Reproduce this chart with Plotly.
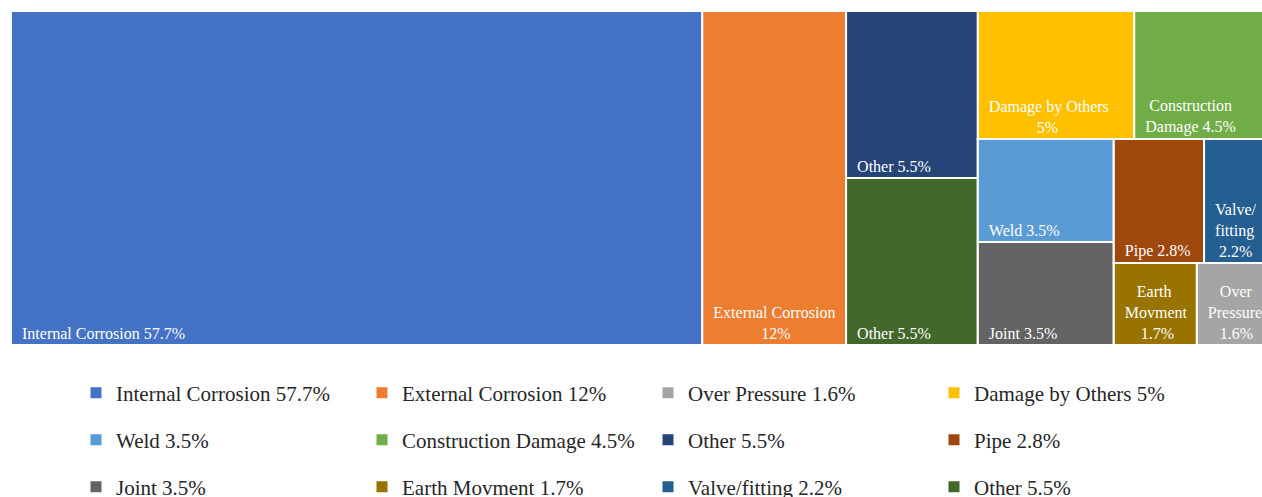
import plotly.graph_objects as go

NB = "\u00a0"

# ---- data ----
labels = ["Internal Corrosion", "External Corrosion", "Other", "Other",
          "Damage by Others", "Construction Damage", "Weld", "Joint",
          "Pipe", "Valve/fitting", "Earth Movment", "Over Pressure"]
values = [57.7, 12, 5.5, 5.5, 5, 4.5, 3.5, 3.5, 2.8, 2.2, 1.7, 1.6]
# tile labels: lines of text (wrapped as in the reference)
tile_lines = [["Internal Corrosion 57.7%"], ["External Corrosion", "12%"], ["Other 5.5%"], ["Other 5.5%"],
              ["Damage by Others", "5%"], ["Construction", "Damage 4.5%"], ["Weld 3.5%"], ["Joint 3.5%"],
              ["Pipe 2.8%"], ["Valve/", "fitting", "2.2%"], ["Earth", "Movment", "1.7%"], ["Over", "Pressure", "1.6%"]]
# indentation (in no-break spaces) used to centre shorter lines under longer ones
tile_indent = [[0], [0, 12], [0], [0], [0, 12], [1, 0], [0], [0], [0], [0, 0, 1], [3, 0, 4], [3, 0, 3]]
colors = ["#4472C4", "#ED7D31", "#264478", "#43682B",
          "#FFC000", "#70AD47", "#5B9BD5", "#636363",
          "#9E480E", "#255E91", "#997300", "#A5A5A5"]

# grouping of tiles (Excel-like arrangement)
tree = {
    "all": [0, 1, "g_other", "g_rest"],
    "g_other": [2, 3],
    "g_rest": ["row_top", "row_low"],
    "row_top": [4, 5],
    "row_low": ["col_a", "col_b"],
    "col_a": [6, 7],
    "col_b": ["row_p", "row_e"],
    "row_p": [8, 9],
    "row_e": [10, 11],
}

# legend rows (indices into the lists above)
legend_rows = [[0, 1, 11, 4], [6, 5, 2, 8], [7, 10, 9, 3]]


def tile_label(i):
    return "<br>".join(NB * (2 + n) + line for line, n in zip(tile_lines[i], tile_indent[i]))


# ---- build hierarchy ----
ids, parents, labs, vals, texts, cols = [], [], [], [], [], []


def add(node, parent):
    if isinstance(node, int):
        ids.append(f"leaf{node}")
        parents.append(parent)
        labs.append(labels[node])
        vals.append(values[node])
        texts.append(tile_label(node))
        cols.append(colors[node])
    else:
        ids.append(node)
        parents.append(parent)
        labs.append(node)
        vals.append(0)
        texts.append("")
        cols.append("white")
        for ch in tree.get(node, []):
            add(ch, node)


add("all", "")

W, H = 1275, 497

fig = go.Figure()
fig.add_trace(go.Treemap(
    ids=ids, parents=parents, labels=labs, values=vals, text=texts,
    textinfo="text", branchvalues="remainder", sort=False,
    marker=dict(colors=cols, line=dict(color="white", width=2),
                pad=dict(t=0, l=0, r=0, b=0)),
    tiling=dict(packing="slice-dice", pad=0),
    pathbar=dict(visible=False),
    textposition="bottom left",
    textfont=dict(family="Liberation Serif", size=16, color="white"),
    hoverinfo="skip",
    root=dict(color="white"),
    domain=dict(x=[0, 1], y=[0, 1]),
))

legend_names = ["legend", "legend2", "legend3"]
for r, row in enumerate(legend_rows):
    for i in row:
        fig.add_trace(go.Scatter(
            x=[None], y=[None], mode="markers",
            marker=dict(symbol="square", size=11, color=colors[i]),
            name=f"{labels[i]} {values[i]:g}%",
            legend=legend_names[r], showlegend=True, hoverinfo="skip"))

common = dict(orientation="h", entrywidth=241, entrywidthmode="pixels",
              xref="container", yref="container",
              xanchor="left", yanchor="middle", x=76 / W,
              font=dict(family="Liberation Serif", size=21, color="#262626"),
              bgcolor="rgba(0,0,0,0)", traceorder="normal")
row_y = [393, 440, 487]
fig.update_layout(
    width=W, height=H,
    margin=dict(l=11, r=0, t=11, b=152, autoexpand=False),
    paper_bgcolor="white", plot_bgcolor="white",
    xaxis=dict(visible=False), yaxis=dict(visible=False),
    uniformtext=dict(minsize=16, mode="show"),
    legend=dict(common, y=1 - row_y[0] / H),
    legend2=dict(common, y=1 - row_y[1] / H),
    legend3=dict(common, y=1 - row_y[2] / H),
)

fig.write_html(
    "out.html",
    post_script="document.documentElement.style.overflow='hidden';document.body.style.overflow='hidden';",
)
